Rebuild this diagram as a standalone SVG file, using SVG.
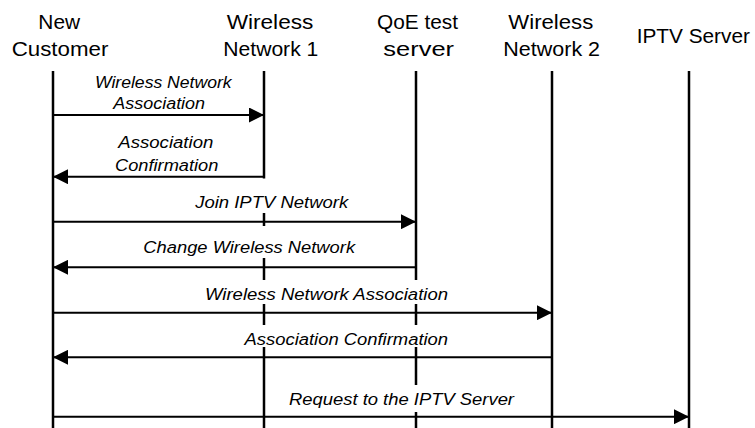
<svg xmlns="http://www.w3.org/2000/svg" width="755" height="428" viewBox="0 0 755 428">
  <style>
    .hdr { font-family: "Liberation Sans", Arial, sans-serif; font-size: 20px; fill: #000; text-anchor: middle; }
    .lbl { font-family: "Liberation Sans", Arial, sans-serif; font-size: 16px; font-style: italic; fill: #000; text-anchor: middle; }
    .life { stroke: #000; stroke-width: 2.5; }
    .msg { stroke: #000; stroke-width: 2; fill: none; marker-end: url(#head); }
    .mask { fill: #fff; }
  </style>
  <defs>
    <marker id="head" markerUnits="userSpaceOnUse" markerWidth="15" markerHeight="15" refX="15" refY="7.5" orient="auto" viewBox="0 0 15 15">
      <path d="M0,0 L15,7.5 L0,15 z" fill="#000"/>
    </marker>
  </defs>

  <rect width="755" height="428" fill="#fff"/>

  <!-- participants with their lifelines -->
  <g id="new-customer">
    <text class="hdr" x="59.2" y="29.3" textLength="41.7" lengthAdjust="spacingAndGlyphs">New</text>
    <text class="hdr" x="60" y="55.5" textLength="96.7" lengthAdjust="spacingAndGlyphs">Customer</text>
    <line class="life" x1="53" y1="71" x2="53" y2="428"/>
  </g>
  <g id="wireless-network-1">
    <text class="hdr" x="270" y="29.3" textLength="86.7" lengthAdjust="spacingAndGlyphs">Wireless</text>
    <text class="hdr" x="270.8" y="55.5" textLength="95" lengthAdjust="spacingAndGlyphs">Network 1</text>
    <line class="life" x1="264" y1="71" x2="264" y2="428"/>
  </g>
  <g id="qoe-test-server">
    <text class="hdr" x="417.5" y="29.3" textLength="81" lengthAdjust="spacingAndGlyphs">QoE test</text>
    <text class="hdr" x="418.7" y="55.5" textLength="70.7" lengthAdjust="spacingAndGlyphs">server</text>
    <line class="life" x1="416" y1="71" x2="416" y2="428"/>
  </g>
  <g id="wireless-network-2">
    <text class="hdr" x="550.8" y="29.3" textLength="85" lengthAdjust="spacingAndGlyphs">Wireless</text>
    <text class="hdr" x="551.7" y="55.5" textLength="96.7" lengthAdjust="spacingAndGlyphs">Network 2</text>
    <line class="life" x1="552" y1="71" x2="552" y2="428"/>
  </g>
  <g id="iptv-server">
    <text class="hdr" x="693.3" y="43.3" textLength="113.3" lengthAdjust="spacingAndGlyphs">IPTV Server</text>
    <line class="life" x1="689" y1="71" x2="689" y2="428"/>
  </g>

  <!-- messages -->
  <g id="connectors">
    <g id="m1">
      <text class="lbl" x="163.3" y="88" textLength="136.7" lengthAdjust="spacingAndGlyphs">Wireless Network</text>
      <text class="lbl" x="159.2" y="108.5" textLength="91.7" lengthAdjust="spacingAndGlyphs">Association</text>
      <line class="msg" x1="53" y1="115" x2="264" y2="115"/>
    </g>
    <g id="m2">
      <text class="lbl" x="165.8" y="148.3" textLength="95" lengthAdjust="spacingAndGlyphs">Association</text>
      <text class="lbl" x="166.7" y="170.7" textLength="103.3" lengthAdjust="spacingAndGlyphs">Confirmation</text>
      <line class="msg" x1="264" y1="176.7" x2="53" y2="176.7"/>
    </g>
    <g id="m3">
      <rect class="mask" x="196" y="178.5" width="150" height="34.5"/>
      <text class="lbl" x="271.7" y="208.3" textLength="153" lengthAdjust="spacingAndGlyphs">Join IPTV Network</text>
      <line class="msg" x1="53" y1="221.7" x2="416" y2="221.7"/>
    </g>
    <g id="m4">
      <rect class="mask" x="145" y="226" width="208" height="32"/>
      <text class="lbl" x="249.2" y="253.3" textLength="211.7" lengthAdjust="spacingAndGlyphs">Change Wireless Network</text>
      <line class="msg" x1="416" y1="267.3" x2="53" y2="267.3"/>
    </g>
    <g id="m5">
      <rect class="mask" x="207" y="280" width="238" height="24"/>
      <text class="lbl" x="326.5" y="300" textLength="243" lengthAdjust="spacingAndGlyphs">Wireless Network Association</text>
      <line class="msg" x1="53" y1="312.7" x2="552" y2="312.7"/>
    </g>
    <g id="m6">
      <rect class="mask" x="247" y="325" width="199" height="22"/>
      <text class="lbl" x="346.3" y="345" textLength="203.5" lengthAdjust="spacingAndGlyphs">Association Confirmation</text>
      <line class="msg" x1="552" y1="357.3" x2="53" y2="357.3"/>
    </g>
    <g id="m7">
      <rect class="mask" x="291" y="385" width="221" height="27"/>
      <text class="lbl" x="401.5" y="405" textLength="225" lengthAdjust="spacingAndGlyphs">Request to the IPTV Server</text>
      <line class="msg" x1="53" y1="416.7" x2="689" y2="416.7"/>
    </g>
  </g>
</svg>
